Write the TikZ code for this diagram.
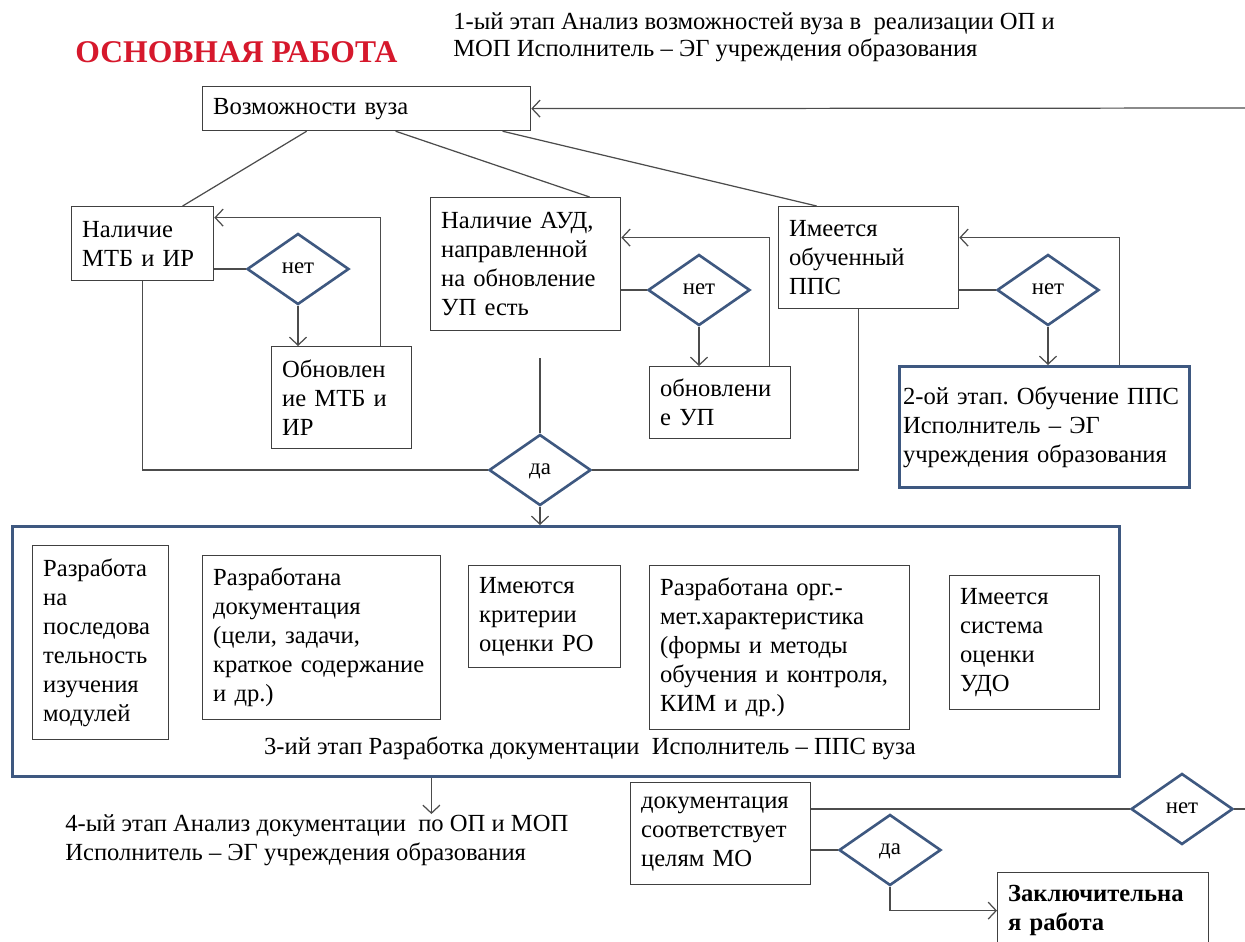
\documentclass[tikz,border=0pt]{standalone}
\usepackage{fontspec}
\setmainfont{Liberation Serif}
\usetikzlibrary{shapes.geometric, arrows.meta}

\definecolor{frameblue}{RGB}{62, 88, 128}
\definecolor{titlered}{RGB}{214, 24, 44}
\newcommand{\mainsize}{\fontsize{14}{16.5}\selectfont}
\frenchspacing

\tikzset{
    box/.style={draw=black!75, line width=0.7pt, anchor=north west, align=left, inner xsep=6pt, inner ysep=2pt},
    stagebox/.style={box, draw=frameblue, line width=1.7pt},
    choice/.style={diamond, draw=frameblue, line width=1.5pt, minimum width=2.04cm, minimum height=1.42cm, inner sep=0pt, text height=1ex, text depth=0pt, font=\fontsize{13}{15}\selectfont},
    link/.style={draw=black!70, line width=0.7pt},
    arr/.style={link, -{Straight Barb[length=1.6mm, width=3.4mm]}}
}

\begin{document}
\begin{tikzpicture}[x=0.02cm, y=-0.02cm, font=\mainsize]
            \clip (0, 0) rectangle (1245, 941);
            %\draw[lightgray] (0, 0) grid[step=50] (1245, 941);
            \node[anchor=west, inner sep=0pt, text=titlered, font=\fontsize{18}{20}\selectfont\bfseries] (title) at (75, 52) {ОСНОВНАЯ РАБОТА};
            \node[anchor=north west, inner sep=0pt, align=left, font=\fontsize{14}{15.5}\selectfont] (st1) at (453, 12) {1-ый этап Анализ возможностей вуза в\ \ реализации ОП и\\МОП Исполнитель – ЭГ учреждения образования};

            \node[box, text width=6.14cm, minimum height=0.88cm] (opps) at (202, 86) {Возможности вуза};
            \node[box, text width=2.42cm, minimum height=1.48cm] (mtb) at (71, 206) {Наличие\\МТБ и ИР};
            \node[choice] (no1) at (298, 269) {нет};
            \node[box, text width=2.38cm, minimum height=2.04cm] (newmtb) at (271, 346) {Обновлен\\ие МТБ и\\ИР};
            \node[box, text width=3.38cm, minimum height=2.66cm] (aud) at (430, 197) {Наличие АУД,\\направленной\\на обновление\\УП есть};
            \node[choice] (no2) at (699, 290) {нет};
            \node[box, text width=2.4cm, minimum height=1.44cm] (newup) at (649, 366) {обновлени\\е УП};
            \node[box, text width=3.18cm, minimum height=2.04cm] (pps) at (778, 206) {Имеется\\обученный\\ППС};
            \node[choice] (no3) at (1048, 290) {нет};
            \node[stagebox, inner xsep=2pt, text width=5.66cm, minimum height=2.42cm] (train) at (898, 365) {2-ой этап. Обучение ППС\\Исполнитель – ЭГ\\учреждения образования};
            \node[choice] (yes1) at (540, 470) {да};

            \node[stagebox, minimum width=22.14cm, minimum height=5cm, inner sep=0pt] (dev) at (11, 525) {};
            \node[box, text width=2.3cm, minimum height=3.88cm] (seq) at (32, 545) {Разработа\\на\\последова\\тельность\\изучения\\модулей};
            \node[box, text width=4.34cm, minimum height=3.28cm] (docs) at (202, 555) {Разработана\\документация\\(цели, задачи,\\краткое содержание\\и др.)};
            \node[box, text width=2.62cm, minimum height=2.04cm] (crit) at (468, 565) {Имеются\\критерии\\оценки РО};
            \node[box, text width=4.78cm, minimum height=3.28cm] (orgmet) at (649, 565) {Разработана орг.-\\мет.характеристика\\(формы и методы\\обучения и контроля,\\КИМ и др.)};
            \node[box, text width=2.58cm, minimum height=2.68cm] (udo) at (949, 575) {Имеется\\система\\оценки\\УДО};
            \node (st3) at (590, 748) {3-ий этап Разработка документации\ \ Исполнитель – ППС вуза};

            \node[anchor=north west, inner sep=0pt, align=left] (st4) at (65, 814) {4-ый этап Анализ документации\ \ по ОП и МОП\\Исполнитель – ЭГ учреждения образования};
            \node[box, text width=3.18cm, minimum height=2.04cm] (match) at (630, 782) {документация\\соответствует\\целям МО};
            \node[choice] (no4) at (1182, 809) {нет};
            \node[choice] (yes2) at (890, 850) {да};
            \node[box, text width=3.8cm, minimum height=1.52cm, font=\mainsize\bfseries] (final) at (997, 872) {Заключительна\\я работа};

            \coordinate (fromright) at (1250, 108);
            \coordinate (toright) at (1250, 809);
            \draw[arr] (fromright) -- (opps.east);
            \draw[link] ([xshift=-1.2cm]opps.south) -- ([xshift=0.8cm]mtb.north);
            \draw[link] ([xshift=0.58cm]opps.south) -- ([xshift=1.28cm]aud.north);
            \draw[link] ([xshift=2.72cm]opps.south) -- ([xshift=-1.04cm]pps.north);

            \draw[link] (no1.west -| mtb.east) -- (no1.west);
            \draw[link] (no2.west -| aud.east) -- (no2.west);
            \draw[link] (no3.west -| pps.east) -- (no3.west);
            \draw[arr] (no1.south) -- (no1.south |- newmtb.north);
            \draw[arr] (no2.south) -- (no2.south |- newup.north);
            \draw[arr] (no3.south) -- (no3.south |- train.north);
            \draw[arr] ([xshift=0.78cm]newmtb.north) |- ([yshift=0.52cm]mtb.east);
            \draw[arr] ([xshift=0.99cm]newup.north) |- ([yshift=0.53cm]aud.east);
            \draw[arr] ([xshift=1.5cm]train.north) |- ([yshift=0.4cm]pps.east);

            \draw[link] (mtb.south) |- (yes1.west);
            \draw[link] ([yshift=-0.54cm]aud.south -| yes1.north) -- (yes1.north);
            \draw[link] ([xshift=-0.2cm]pps.south) |- (yes1.east);
            \draw[arr] (yes1.south) -- (yes1.south |- dev.north);

            \draw[arr] ([xshift=-2.69cm]dev.south) -- ([xshift=-2.69cm]dev.south |- st4.north);
            \draw[link] (no4.west -| match.east) -- (no4.west);
            \draw[link] (no4.east) -- (toright);
            \draw[link] (yes2.west -| match.east) -- (yes2.west);
            \draw[arr] (yes2.south) |- (final.west);
        \end{tikzpicture}
\end{document}
